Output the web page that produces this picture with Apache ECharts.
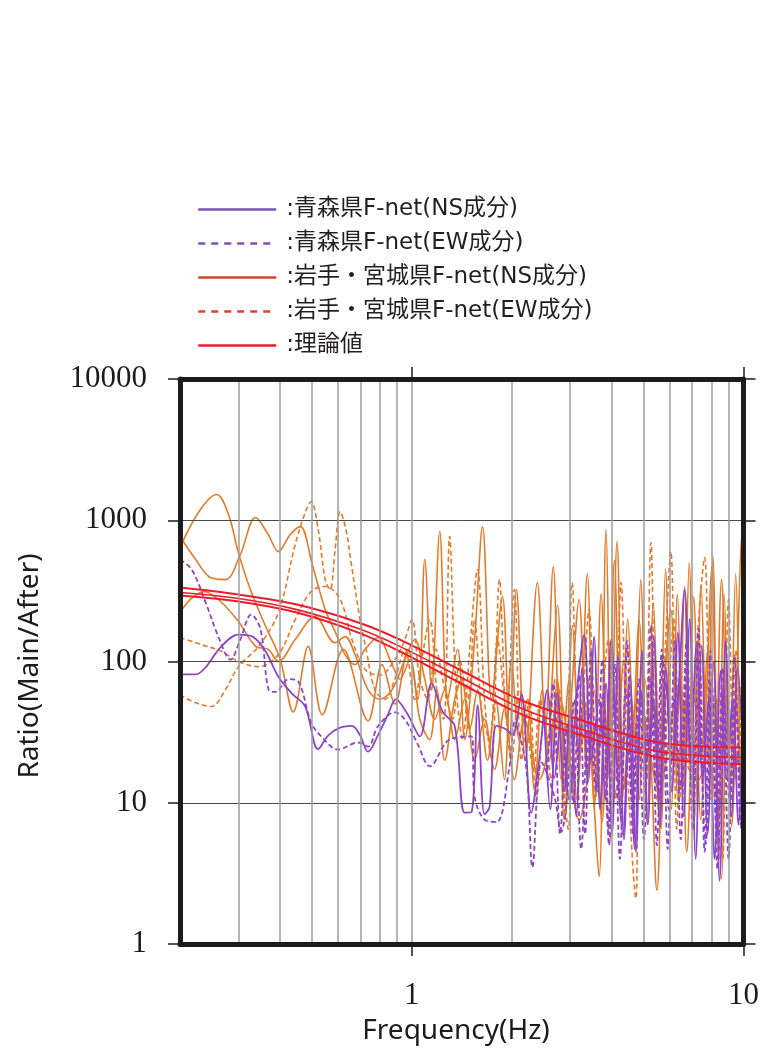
<!DOCTYPE html>
<html>
<head>
<meta charset="utf-8">
<script src="https://cdn.jsdelivr.net/npm/echarts@6/dist/echarts.min.js"></script>
<style>
  html, body { margin: 0; padding: 0; background: #fff; }
  #chart { width: 762px; height: 1051px; }
</style>
</head>
<body>
<div id="chart"></div>
<script>
// axis ticks
const xTicks = [1, 10];
const yTicks = [1, 10, 100, 1000, 10000];
const minorFreqs = [0.3, 0.4, 0.5, 0.6, 0.7, 0.8, 0.9, 2, 3, 4, 5, 6, 7, 8, 9];

// legend names
const N_AOMORI_NS = ':青森県F-net(NS成分)';
const N_AOMORI_EW = ':青森県F-net(EW成分)';
const N_IWATE_NS = ':岩手・宮城県F-net(NS成分)';
const N_IWATE_EW = ':岩手・宮城県F-net(EW成分)';
const N_THEORY = ':理論値';

// [frequency Hz, ratio]
const aomoriNS = [[0.2,81],[0.223,81],[0.239,91],[0.265,126],[0.3,155],[0.331,150],[0.362,118],[0.396,78],[0.436,59],[0.477,48],[0.522,24],[0.56,30],[0.608,34],[0.66,35],[0.698,30],[0.738,23],[0.79,30],[0.847,42],[0.895,54],[0.973,42],[1.057,29.5],[1.148,70],[1.239,44],[1.346,35],[1.443,8.5],[1.514,8.6],[1.579,49],[1.656,8.3],[1.715,9.3],[1.8,35],[1.93,33],[2.01,30],[2.14,59],[2.29,8.5],[2.42,20],[2.56,63],[2.69,15],[2.82,38],[2.98,10.5],[3.15,63],[3.31,155],[3.47,20],[3.67,54],[3.83,10.5],[3.99,143],[4.15,20],[4.33,5.9],[4.51,39],[4.7,4.7],[4.91,63],[5.11,20],[5.33,54],[5.56,10.5],[5.83,71],[6.08,20],[6.34,54],[6.65,323],[6.93,20],[7.22,132],[7.53,14.6],[7.85,54],[8.18,4],[8.53,86],[8.89,14.6],[9.27,54],[9.66,7],[10,63]];

const aomoriNS_hf = [[2.51,40],[2.615,9],[2.745,60],[2.881,12],[3.0,45],[3.13,8],[3.263,90],[3.4,14],[3.545,150],[3.695,9],[3.852,70],[4.015,6],[4.184,110],[4.362,5.5],[4.547,80],[4.739,4.5],[4.94,120],[5.149,7],[5.367,150],[5.594,6.8],[5.83,90],[6.08,12],[6.34,160],[6.603,8],[6.883,200],[7.174,4],[7.479,130],[7.797,6],[8.126,100],[8.472,2.8],[8.83,140],[9.204,8],[9.594,90],[10,20]];

const aomoriEW = [[0.2,527],[0.217,448],[0.239,262],[0.261,150],[0.284,103],[0.304,143],[0.328,215],[0.35,168],[0.37,63],[0.388,61],[0.425,75],[0.455,72],[0.497,37],[0.533,29.5],[0.6,23.8],[0.689,26.7],[0.738,25],[0.79,34.7],[0.889,43.6],[0.953,38.9],[1.042,25.9],[1.133,18.1],[1.3,28.1],[1.514,29.5],[1.546,11.1],[1.656,7.6],[1.8,7.3],[1.97,18.1],[2.04,37],[2.21,18.1],[2.31,3.5],[2.46,19.3],[2.69,11.1],[2.82,6.2],[2.92,9.4],[3.09,54],[3.24,4.7],[3.42,43.6],[3.59,12.4],[3.75,103],[3.91,6.5],[4.07,54],[4.24,4],[4.42,63],[4.61,10.5],[4.8,39],[5.01,5.5],[5.22,75],[5.44,14.6],[5.67,122],[5.91,4.7],[6.16,54],[6.42,12.4],[6.74,143],[7.03,6.5],[7.32,54],[7.69,5.1],[8.01,75],[8.35,3.4],[8.71,63],[9.08,10.5],[9.46,54],[9.86,6.5],[10,54]];

const aomoriEW_hf = [[2.56,15],[2.67,70],[2.8,6],[2.94,35],[3.065,10],[3.195,80],[3.331,6],[3.471,120],[3.619,12],[3.772,60],[3.932,5],[4.099,95],[4.272,8],[4.454,140],[4.642,6],[4.839,75],[5.044,12],[5.257,180],[5.48,5],[5.712,110],[5.953,9],[6.205,140],[6.47,5.5],[6.744,95],[7.03,10],[7.32,170],[7.635,4.5],[7.958,120],[8.297,7],[8.649,90],[9.016,4],[9.397,110],[9.795,7],[10,60]];

const iwateNS_a = [[0.2,640],[0.228,1150],[0.258,1520],[0.28,1097],[0.3,590],[0.326,323],[0.357,192],[0.401,103],[0.439,44],[0.487,128],[0.537,42],[0.621,122],[0.738,38],[0.813,95],[0.889,50],[0.973,122],[1.042,54],[1.094,527],[1.148,63],[1.214,832],[1.283,54],[1.374,122],[1.443,28],[1.546,143],[1.634,902],[1.739,54],[1.876,288],[1.969,28],[2.067,323],[2.199,20],[2.39,362],[2.526,33],[2.669,470],[2.82,14.6],[2.983,75],[3.151,10.5],[3.308,54],[3.471,20],[3.669,3],[3.852,859],[3.987,20],[4.156,707],[4.362,12.4],[4.579,54],[4.839,10.5],[5.044,75],[5.257,20],[5.48,2.4],[5.752,54],[6.038,233],[6.337,10.5],[6.649,340],[6.836,20],[7.076,288],[7.429,7.6],[7.743,63],[8.015,463],[8.297,20],[8.589,2.9],[8.891,54],[9.204,6.8],[9.528,63],[9.863,767],[10,54]];

const iwateNS_b = [[0.2,767],[0.223,527],[0.247,393],[0.274,380],[0.304,572],[0.338,1045],[0.369,792],[0.396,600],[0.43,792],[0.461,902],[0.501,486],[0.548,233],[0.587,163],[0.629,112],[0.674,95],[0.723,122],[0.79,148],[0.865,100],[0.92,75],[0.986,103],[1.057,39],[1.132,28],[1.189,63],[1.256,20],[1.346,54],[1.413,75],[1.494,33],[1.578,63],[1.691,20],[1.788,54],[1.902,14.6],[1.997,103],[2.11,28],[2.23,54],[2.341,12.4],[2.474,63],[2.597,20],[2.745,75],[2.881,7.6],[3.024,54],[3.195,275],[3.377,14.6],[3.545,63],[3.746,7.3],[3.932,54],[4.127,14.6],[4.362,103],[4.61,28],[4.839,198],[5.113,14.6],[5.367,54],[5.633,6.5],[5.873,63],[6.165,20],[6.47,75],[6.744,4.5],[7.125,54],[7.429,20],[7.797,122],[8.183,10.5],[8.589,380],[9.016,20],[9.397,103],[9.795,12.4],[10,198]];

const iwateNS_c = [[0.2,222],[0.215,275],[0.236,313],[0.265,266],[0.3,192],[0.338,128],[0.369,122],[0.396,100],[0.445,143],[0.511,208],[0.587,136],[0.629,150],[0.674,112],[0.738,63],[0.801,54],[0.871,63],[0.953,103],[1.021,143],[1.094,75],[1.172,39],[1.256,63],[1.346,28],[1.443,54],[1.546,20],[1.656,39],[1.775,17.2],[1.902,46],[2.038,14.6],[2.184,39],[2.423,14.6],[2.783,54],[3.195,7.6],[3.669,39],[4.213,10.5],[4.839,54],[5.56,12.4],[6.381,63],[7.32,14.6],[8.41,54],[9.66,20],[10,39]];

const iwateNS_hf = [[2.6,30],[2.75,250],[2.9,12],[3.05,180],[3.2,20],[3.38,420],[3.55,9],[3.72,300],[3.9,15],[4.08,520],[4.28,10],[4.48,200],[4.68,25],[4.9,380],[5.12,7],[5.35,260],[5.58,18],[5.82,450],[6.07,9],[6.32,300],[6.58,14],[6.86,500],[7.15,8],[7.45,350],[7.76,20],[8.08,560],[8.4,6],[8.74,300],[9.1,12],[9.47,420],[9.85,10],[10,200]];

const iwateEW_a = [[0.2,58],[0.223,51],[0.249,48],[0.274,63],[0.3,92],[0.345,128],[0.396,222],[0.445,673],[0.477,1133],[0.497,1356],[0.522,859],[0.548,380],[0.567,323],[0.587,620],[0.608,1150],[0.633,859],[0.656,502],[0.698,198],[0.728,122],[0.774,63],[0.83,54],[0.889,75],[0.953,122],[1.021,54],[1.071,103],[1.132,198],[1.197,54],[1.248,39],[1.3,767],[1.355,75],[1.423,28],[1.494,122],[1.578,448],[1.656,54],[1.739,20],[1.838,380],[1.929,39],[2.038,323],[2.14,20],[2.262,54],[2.373,10.5],[2.508,39],[2.633,14.6],[2.783,63],[2.901,7.6],[3.044,362],[3.195,20],[3.423,233],[3.594,14.6],[3.772,54],[3.959,5.5],[4.156,63],[4.272,362],[4.454,20],[4.739,2.1],[4.839,54],[5.044,28],[5.257,695],[5.48,10.5],[5.712,54],[6.038,600],[6.293,6.5],[6.559,54],[6.836,17.2],[7.174,103],[7.635,545],[7.958,10.5],[8.297,54],[8.649,4],[9.016,275],[9.397,14.6],[9.795,54],[10,143]];

const iwateEW_b = [[0.2,148],[0.231,132],[0.267,118],[0.3,100],[0.345,92],[0.396,112],[0.445,198],[0.497,313],[0.548,340],[0.608,275],[0.66,143],[0.723,88],[0.801,80],[0.889,103],[0.953,143],[1,198],[1.057,75],[1.117,54],[1.181,122],[1.256,63],[1.328,39],[1.394,103],[1.473,54],[1.546,198],[1.623,46],[1.715,28],[1.812,143],[1.902,54],[1.997,20],[2.11,63],[2.21,39],[2.325,17.2],[2.44,54],[2.56,28],[2.707,75],[2.841,20],[2.962,6.5],[3.108,54],[3.263,28],[3.423,75],[3.569,10.5],[3.72,39],[3.91,143],[4.099,10.5],[4.272,20],[4.484,122],[4.7,12.4],[4.94,39],[5.186,20],[5.404,103],[5.633,14.6],[5.873,39],[6.165,198],[6.42,10.5],[6.695,39],[6.98,12.4],[7.32,143],[7.69,20],[8.07,54],[8.41,7.6],[8.77,39],[9.14,10.5],[9.528,122],[9.93,20],[10,54]];

// theoretical curves (three lines)
const theoryFreq = [0.2, 0.3, 0.45, 0.69, 0.92, 1.39, 2.11, 3.19, 5.56, 10];
const theoryUpper = [334, 298, 253, 189, 143, 87.8, 53.8, 38.9, 26.7, 24.6];
const theoryMid = [308, 279, 233, 171, 128, 78.3, 47.3, 33.6, 23.1, 20.9];
const theoryLow = [293, 266, 222, 160, 118, 71, 42.9, 30.4, 20.9, 18.7];

const PURPLE = '#8c45c8';
const ORANGE = '#e27b2a';
const RED = '#ec1c2c';

const chart = echarts.init(document.getElementById('chart'));

function curve(name, data, color, dashed, width, z) {
  return {
    name: name,
    type: 'line',
    data: data,
    smooth: 0.35,
    symbol: 'none',
    showSymbol: false,
    z: z,
    lineStyle: { color: color, width: width, type: dashed ? [5, 3] : 'solid' },
    itemStyle: { color: color }
  };
}

const zip = (xs, ys) => xs.map((x, i) => [x, ys[i]]);

const frame = { show: true, onZero: false, lineStyle: { color: '#1c1c1c', width: 5 } };
function ticks(vals) {
  return { show: true, customValues: vals, length: 12, lineStyle: { color: '#1c1c1c', width: 1.5 } };
}
const tickFont = { fontFamily: 'Liberation Serif', fontSize: 31, color: '#1c1c1c' };
const hideDot = { opacity: 0 };

const option = {
  backgroundColor: '#fff',
  animation: false,
  grid: { left: 180, right: 15, top: 379, bottom: 107 },
  legend: {
    orient: 'vertical',
    left: 197,
    top: 198,
    padding: 0,
    itemWidth: 78,
    itemHeight: 14,
    itemGap: 11,
    selectedMode: false,
    itemStyle: hideDot,
    textStyle: { fontFamily: 'DejaVu Sans, Noto Sans CJK JP', fontSize: 23, color: '#231f20', lineHeight: 22, padding: [0, 0, 0, 5] },
    data: [
      { name: N_AOMORI_NS, itemStyle: hideDot, lineStyle: { color: '#7b52b8', width: 2.5 } },
      { name: N_AOMORI_EW, itemStyle: hideDot, lineStyle: { color: '#7b52b8', width: 2.5, type: [7, 6] } },
      { name: N_IWATE_NS, itemStyle: hideDot, lineStyle: { color: '#d8432c', width: 2.5 } },
      { name: N_IWATE_EW, itemStyle: hideDot, lineStyle: { color: '#d8432c', width: 2.5, type: [7, 6] } },
      { name: N_THEORY, itemStyle: hideDot, lineStyle: { color: RED, width: 2.5 } }
    ]
  },
  graphic: [
    { type: 'text', x: 456, y: 1031, style: { text: 'Frequency(Hz)', fontFamily: 'Noto Sans', fontSize: 28, fill: '#1c1c1c', textAlign: 'center', textVerticalAlign: 'middle' } },
    { type: 'text', x: 30, y: 666, rotation: Math.PI / 2, style: { text: 'Ratio(Main/After)', fontFamily: 'Noto Sans', fontSize: 28, fill: '#1c1c1c', textAlign: 'center', textVerticalAlign: 'middle' } }
  ],
  xAxis: [
    {
      type: 'log', logBase: 10, min: 0.2, max: 10, position: 'bottom', z: 5,
      axisLine: frame, axisTick: ticks(xTicks),
      axisLabel: Object.assign({ customValues: xTicks, margin: 36, formatter: v => String(Math.round(v)) }, tickFont),
      splitLine: { show: true, lineStyle: { color: '#9c9c9c', width: 1.5 } }
    },
    {
      type: 'log', logBase: 10, min: 0.2, max: 10, position: 'top', z: 5,
      axisLine: frame, axisTick: ticks(xTicks), axisLabel: { show: false }, splitLine: { show: false }
    }
  ],
  yAxis: [
    {
      type: 'log', logBase: 10, min: 1, max: 10000, position: 'left', z: 5,
      axisLine: frame, axisTick: ticks(yTicks),
      axisLabel: Object.assign({ customValues: yTicks, margin: 33, formatter: v => String(Math.round(v)) }, tickFont),
      splitLine: { show: true, lineStyle: { color: '#4a4a4a', width: 1 } }
    },
    {
      type: 'log', logBase: 10, min: 1, max: 10000, position: 'right', z: 5,
      axisLine: frame, axisTick: ticks(yTicks), axisLabel: { show: false }, splitLine: { show: false }
    }
  ],
  series: [
    {
      name: 'grid', type: 'line', data: [[1, 100]], symbol: 'none', lineStyle: { opacity: 0 }, z: 1, silent: true,
      markLine: {
        silent: true, symbol: ['none', 'none'], label: { show: false },
        lineStyle: { color: '#9c9c9c', width: 1.5, type: 'solid' },
        data: minorFreqs.map(f => ({ xAxis: f }))
      }
    },
    curve(N_IWATE_NS, iwateNS_a, ORANGE, false, 1.6, 2),
    curve(N_IWATE_NS, iwateNS_b, ORANGE, false, 1.6, 2),
    curve(N_IWATE_NS, iwateNS_c, ORANGE, false, 1.6, 2),
    curve(N_IWATE_NS, iwateNS_hf, ORANGE, false, 1.6, 2),
    curve(N_IWATE_EW, iwateEW_a, ORANGE, true, 1.6, 2),
    curve(N_IWATE_EW, iwateEW_b, ORANGE, true, 1.6, 2),
    curve(N_AOMORI_NS, aomoriNS, PURPLE, false, 1.8, 3),
    curve(N_AOMORI_NS, aomoriNS_hf, PURPLE, false, 1.8, 3),
    curve(N_AOMORI_EW, aomoriEW, PURPLE, true, 1.8, 3),
    curve(N_AOMORI_EW, aomoriEW_hf, PURPLE, true, 1.8, 3),
    curve(N_THEORY, zip(theoryFreq, theoryUpper), RED, false, 2, 4),
    curve(N_THEORY, zip(theoryFreq, theoryMid), RED, false, 1.6, 4),
    curve(N_THEORY, zip(theoryFreq, theoryLow), RED, false, 2, 4)
  ]
};

chart.setOption(option);
window.addEventListener('resize', () => chart.resize());
</script>
</body>
</html>
